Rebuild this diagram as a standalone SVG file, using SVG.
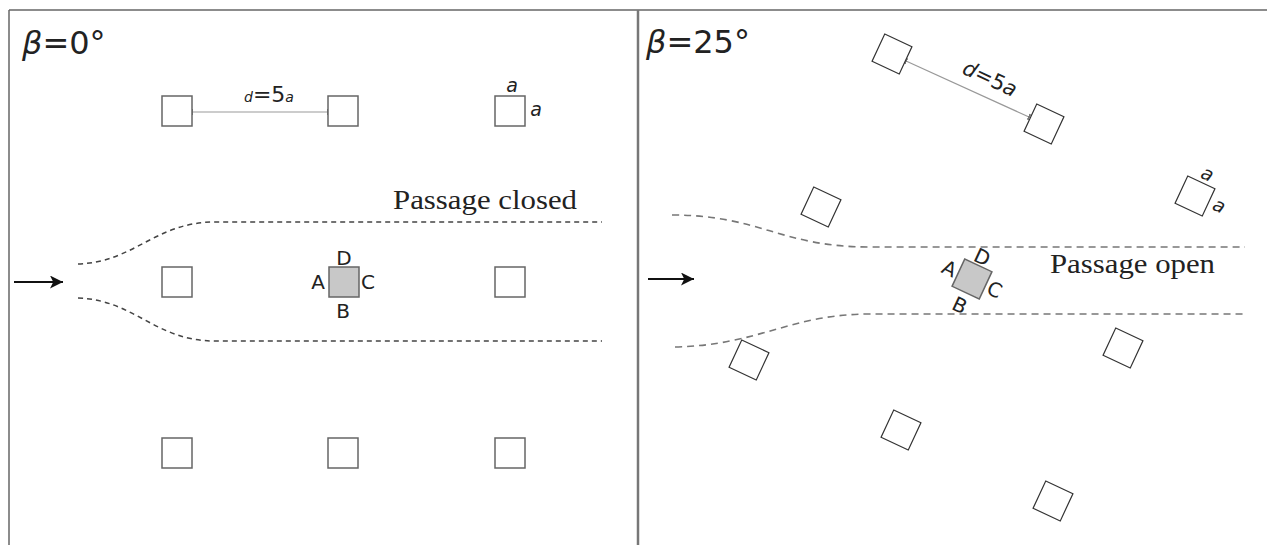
<svg xmlns="http://www.w3.org/2000/svg" width="1267" height="545" viewBox="0 0 1267 545">
<defs>
<style>
.sq{fill:#fff;stroke:#666;stroke-width:1.5}
.sqr{fill:#fff;stroke:#333;stroke-width:1.2}
.gray{fill:#c8c8c8;stroke:#666;stroke-width:1.5}
.lbl{font-family:"DejaVu Sans",sans-serif;font-size:20px;fill:#222;text-anchor:middle}
.ita{font-family:"DejaVu Sans",sans-serif;font-style:italic;font-size:19px;fill:#222;text-anchor:middle}
.title{font-family:"DejaVu Sans",sans-serif;font-size:32px;fill:#222}
.pass{font-family:"Liberation Serif",serif;font-size:28px;fill:#222}
.dash{fill:none;stroke:#444;stroke-width:1.5;stroke-dasharray:5 4}
.dashr{fill:none;stroke:#777;stroke-width:1.6;stroke-dasharray:7 5}
.dim{stroke:#999;stroke-width:1.2;fill:none}
</style>
<marker id="bar" viewBox="0 0 2 8" refX="1" refY="4" markerWidth="2" markerHeight="8" markerUnits="userSpaceOnUse" orient="auto"><rect x="0" y="1" width="2" height="6" fill="#777"/></marker>
<marker id="arr" viewBox="0 0 10 10" refX="10" refY="5" markerWidth="15" markerHeight="13" markerUnits="userSpaceOnUse" orient="auto"><path d="M0,0 L10,5 L0,10 L2.5,5 Z" fill="#111"/></marker>
</defs>
<rect x="0" y="0" width="1267" height="545" fill="#fff"/>
<g id="frame">
<line x1="9" y1="10" x2="1267" y2="10" stroke="#666" stroke-width="1.5"/>
<line x1="9" y1="10" x2="9" y2="545" stroke="#666" stroke-width="1.5"/>
<line x1="638" y1="10" x2="638" y2="545" stroke="#777" stroke-width="2.5"/>
</g>
<g id="titles">
<text class="title" x="22" y="54"><tspan font-style="italic">β</tspan>=0°</text>
<text class="title" x="646" y="53"><tspan font-style="italic">β</tspan>=25°</text>
</g>
<g id="connectors">
<line class="dim" x1="192" y1="112" x2="328" y2="112" marker-start="url(#bar)" marker-end="url(#bar)"/>
<line class="dim" x1="906" y1="61" x2="1029" y2="117" marker-start="url(#bar)" marker-end="url(#bar)"/>
<path class="dash" d="M78,264 C135,262 155,222 215,222 L602,222"/>
<path class="dash" d="M78,298 C135,300 155,341 215,341 L602,341"/>
<path class="dashr" d="M672,215 C760,215 780,247 870,247 L1245,247"/>
<path class="dashr" d="M675,347 C760,345 790,314 870,314 L1245,314"/>
<line x1="14" y1="282" x2="63" y2="282" stroke="#111" stroke-width="2" marker-end="url(#arr)"/>
<line x1="648" y1="279" x2="694" y2="279" stroke="#111" stroke-width="2" marker-end="url(#arr)"/>
</g>
<g id="left-grid">
<rect id="L11" class="sq" x="162" y="96" width="30" height="30"/>
<rect id="L12" class="sq" x="328" y="96" width="30" height="30"/>
<rect id="L13" class="sq" x="495" y="96" width="30" height="30"/>
<rect id="L21" class="sq" x="162" y="267" width="30" height="30"/>
<rect id="L22" class="gray" x="329" y="267" width="30" height="30"/>
<rect id="L23" class="sq" x="495" y="267" width="30" height="30"/>
<rect id="L31" class="sq" x="162" y="438" width="30" height="30"/>
<rect id="L32" class="sq" x="328" y="438" width="30" height="30"/>
<rect id="L33" class="sq" x="495" y="438" width="30" height="30"/>
</g>
<g id="left-labels">
<text x="269" y="102" font-family="DejaVu Sans,sans-serif" fill="#222" text-anchor="middle"><tspan font-style="italic" font-size="14">d</tspan><tspan font-size="22">=5</tspan><tspan font-style="italic" font-size="14">a</tspan></text>
<text class="ita" x="512" y="92">a</text>
<text class="ita" x="536" y="116">a</text>
<text class="lbl" x="344" y="265">D</text>
<text class="lbl" x="318" y="289">A</text>
<text class="lbl" x="368" y="289">C</text>
<text class="lbl" x="343" y="318">B</text>
<text class="pass" x="393" y="209" textLength="184" lengthAdjust="spacingAndGlyphs">Passage closed</text>
</g>
<g id="right-grid">
<rect class="sqr" x="-15" y="-15" width="30" height="30" transform="translate(892,54) rotate(25)"/>
<rect class="sqr" x="-15" y="-15" width="30" height="30" transform="translate(1044,124) rotate(25)"/>
<rect class="sqr" x="-15" y="-15" width="30" height="30" transform="translate(1195,196) rotate(25)"/>
<rect class="sqr" x="-15" y="-15" width="30" height="30" transform="translate(821,207) rotate(25)"/>
<rect class="gray" x="-15" y="-15" width="30" height="30" transform="translate(972,279) rotate(25)"/>
<rect class="sqr" x="-15" y="-15" width="30" height="30" transform="translate(1123,348) rotate(25)"/>
<rect class="sqr" x="-15" y="-15" width="30" height="30" transform="translate(749,360) rotate(25)"/>
<rect class="sqr" x="-15" y="-15" width="30" height="30" transform="translate(901,430) rotate(25)"/>
<rect class="sqr" x="-15" y="-15" width="30" height="30" transform="translate(1053,501) rotate(25)"/>
</g>
<g id="right-labels">
<text transform="translate(987,85) rotate(25)" font-family="DejaVu Sans,sans-serif" fill="#222" text-anchor="middle" font-size="21"><tspan font-style="italic">d</tspan>=5<tspan font-style="italic">a</tspan></text>
<g transform="translate(1195,196) rotate(25)">
<text class="ita" x="2" y="-19">a</text>
<text class="ita" x="26" y="5">a</text>
</g>
<g transform="translate(972,279) rotate(25)">
<text class="lbl" x="0" y="-17">D</text>
<text class="lbl" x="-25" y="7">A</text>
<text class="lbl" x="25" y="7">C</text>
<text class="lbl" x="0" y="36">B</text>
</g>
<text class="pass" x="1050" y="273" textLength="165" lengthAdjust="spacingAndGlyphs">Passage open</text>
</g>
</svg>
